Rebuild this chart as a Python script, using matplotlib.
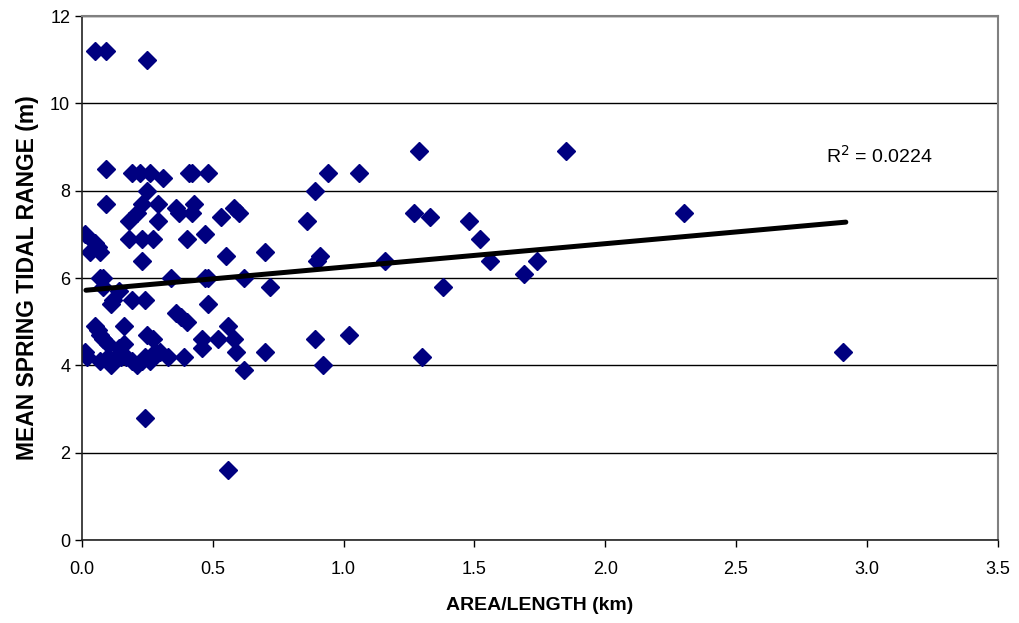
import numpy as np
import matplotlib.pyplot as plt

plt.rcParams['font.family'] = ['Liberation Sans', 'DejaVu Sans']

# area/length (km) vs mean spring tidal range (m)
area_length = [0.05, 0.09, 0.25,
               0.09, 0.19, 0.22, 0.26, 0.41, 0.42, 0.48, 0.94, 1.06, 0.31, 1.29, 1.85,
               0.25, 0.89,
               0.09, 0.23, 0.29, 0.43,
               0.36, 0.37, 0.42, 0.58, 0.60, 0.21, 1.27, 1.33, 2.30, 0.53,
               0.18, 0.29, 0.86, 1.48,
               0.01, 0.47,
               0.18, 0.23, 0.27, 0.40, 1.52,
               0.05, 0.03, 0.07, 0.06, 0.23, 0.55, 0.70, 0.90, 0.91, 1.16, 1.56, 1.74,
               0.07, 0.08, 0.34, 0.47, 0.48, 0.62, 1.69,
               0.08, 0.14, 0.72, 1.38,
               0.12, 0.19, 0.24, 0.11, 0.48,
               0.36, 0.38, 0.40,
               0.05, 0.06, 0.16, 0.07, 0.56, 0.25, 0.27, 0.08, 0.10,
               0.46, 0.52, 0.58, 0.89, 1.02, 0.14, 0.16, 0.46, 0.30, 0.59, 0.70,
               0.01, 0.02, 0.07, 0.10, 0.11, 0.13, 0.15, 0.17, 0.19, 0.21, 0.23, 0.24,
               0.26, 0.28, 0.33, 0.39, 0.92, 1.30, 2.91, 0.62,
               0.24, 0.56]
tidal_range = [11.2, 11.2, 11.0,
               8.5, 8.4, 8.4, 8.4, 8.4, 8.4, 8.4, 8.4, 8.4, 8.3, 8.9, 8.9,
               8.0, 8.0,
               7.7, 7.7, 7.7, 7.7,
               7.6, 7.5, 7.5, 7.6, 7.5, 7.5, 7.5, 7.4, 7.5, 7.4,
               7.3, 7.3, 7.3, 7.3,
               7.0, 7.0,
               6.9, 6.9, 6.9, 6.9, 6.9,
               6.8, 6.6, 6.6, 6.7, 6.4, 6.5, 6.6, 6.4, 6.5, 6.4, 6.4, 6.4,
               6.0, 6.0, 6.0, 6.0, 6.0, 6.0, 6.1,
               5.8, 5.7, 5.8, 5.8,
               5.5, 5.5, 5.5, 5.4, 5.4,
               5.2, 5.1, 5.0,
               4.9, 4.8, 4.9, 4.7, 4.9, 4.7, 4.6, 4.6, 4.5,
               4.6, 4.6, 4.6, 4.6, 4.7, 4.4, 4.5, 4.4, 4.3, 4.3, 4.3,
               4.3, 4.2, 4.1, 4.2, 4.0, 4.2, 4.2, 4.2, 4.1, 4.0, 4.1, 4.2,
               4.1, 4.3, 4.2, 4.2, 4.0, 4.2, 4.3, 3.9,
               2.8, 1.6]

# linear trend line (as shown in the chart, R^2 = 0.0224)
trend_x = [0.015, 2.92]
trend_y = [5.72, 7.28]
r2_label = 'R$^2$ = 0.0224'

fig = plt.figure(figsize=(10.2, 6.23), dpi=100)
ax = fig.add_axes([0.0804, 0.1332, 0.8976, 0.8411])

ax.set_axisbelow(True)
ax.grid(axis='y', color='black', lw=1)

ax.plot(area_length, tidal_range, 'D', color='#000080', markersize=9, zorder=2)
ax.plot(trend_x, trend_y, color='black', lw=3.6, solid_capstyle='round', zorder=3)
ax.text(2.845, 8.79, r2_label, fontsize=14, va='center', ha='left')

ax.set_xlim(0, 3.5)
ax.set_ylim(0, 12)
xt = np.arange(0, 3.51, 0.5)
ax.set_xticks(xt)
ax.set_xticklabels([f'{t:.1f}' for t in xt])
ax.set_yticks(range(0, 13, 2))
ax.tick_params(labelsize=13, direction='out', length=5, width=1, color='black')
ax.tick_params(axis='x', pad=10)
for side in ['top', 'right']:
    ax.spines[side].set_color('#808080')
    ax.spines[side].set_linewidth(1.5)
for side in ['left', 'bottom']:
    ax.spines[side].set_color('#222222')
    ax.spines[side].set_linewidth(1.2)

ax.set_xlabel('AREA/LENGTH (km)', fontsize=14, fontweight='bold', labelpad=14)
ax.set_ylabel('MEAN SPRING TIDAL RANGE (m)', fontsize=16.5, fontweight='bold', labelpad=8)

fig.savefig('out.png', dpi=100)
